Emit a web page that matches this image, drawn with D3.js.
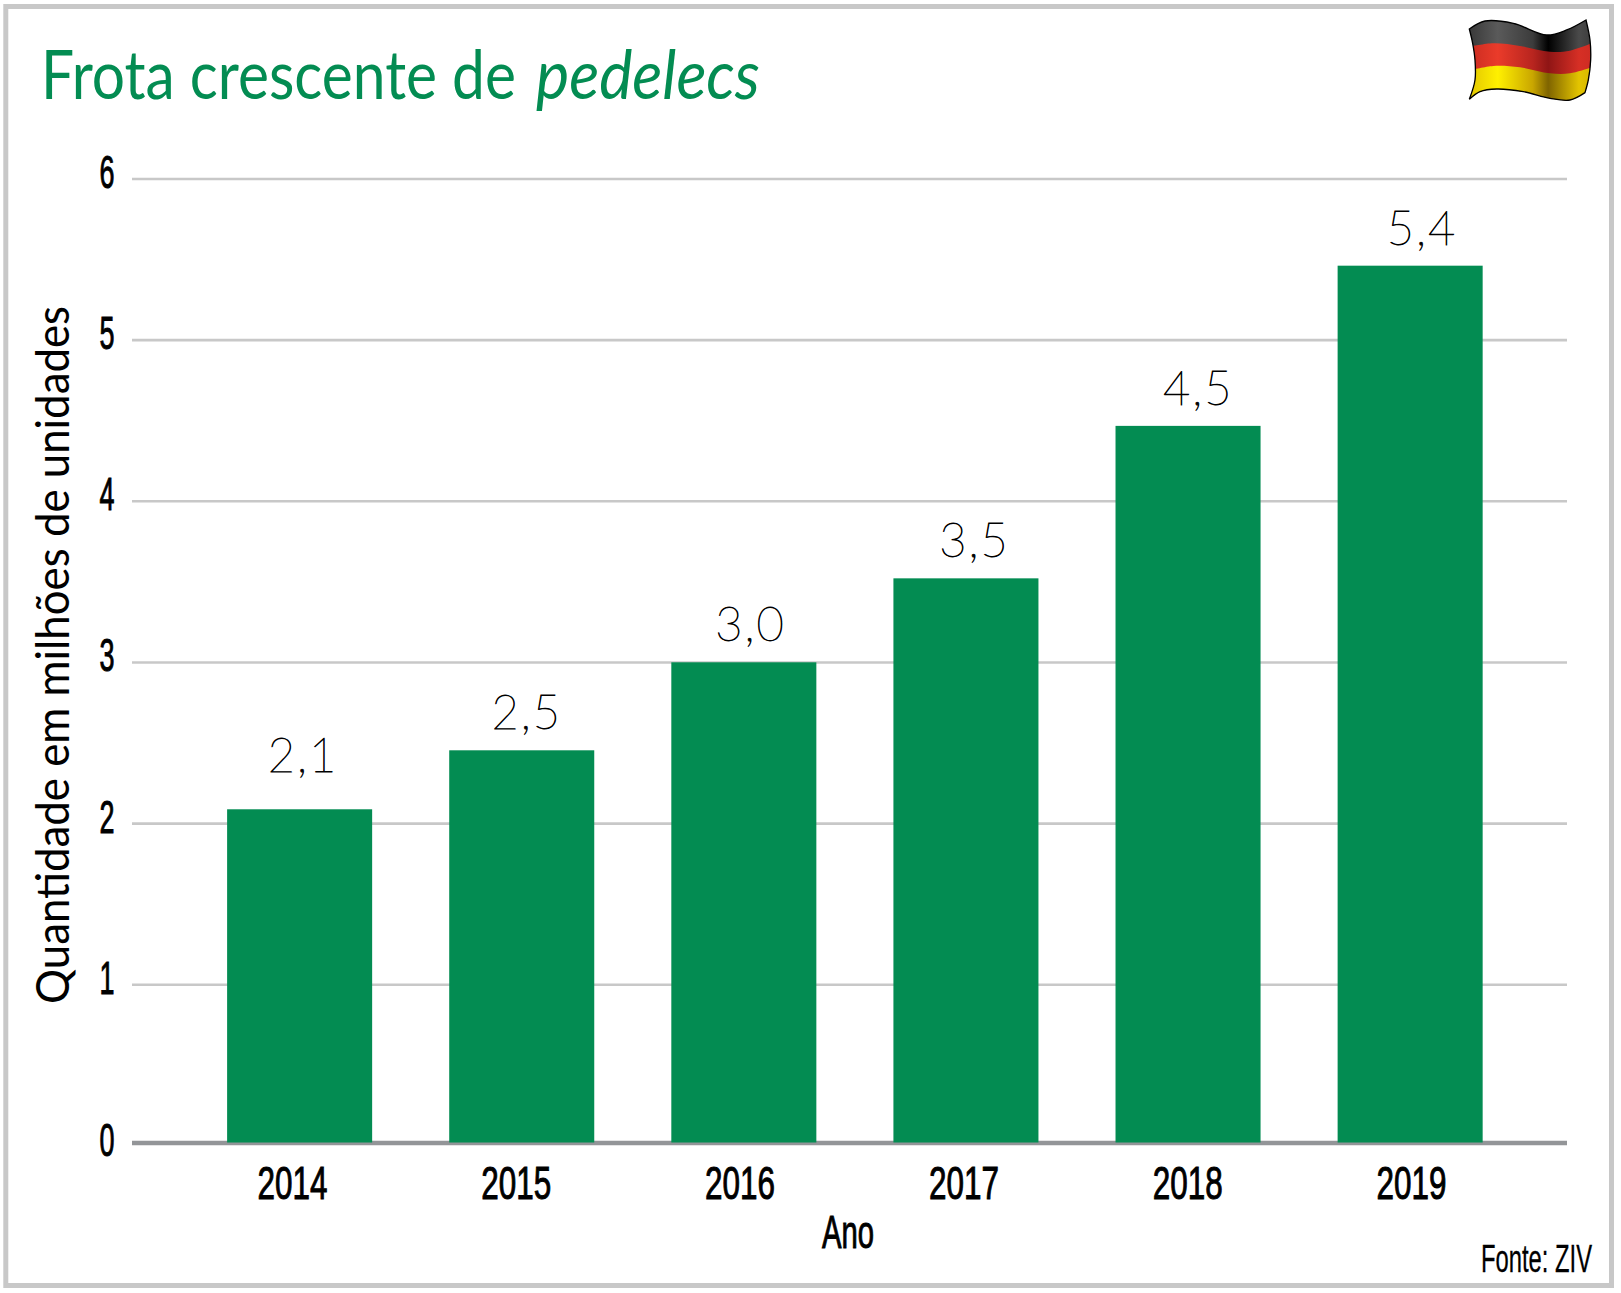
<!DOCTYPE html>
<html>
<head>
<meta charset="utf-8">
<title>Frota crescente de pedelecs</title>
<script src="https://cdn.jsdelivr.net/npm/d3@7"></script>
<style>
	html, body { margin: 0; padding: 0; background: #fff; }
	svg { display: block; }
	.cond { font-family: "Liberation Sans Narrow", "Liberation Sans", sans-serif; font-weight: 400; fill: #000; stroke: #000; stroke-width: 1; }
	.light { font-family: Lato, "Open Sans", sans-serif; font-weight: 200; fill: #000; stroke: #000; stroke-width: 0.8; }
	.book { font-family: Lato, "Open Sans", sans-serif; font-weight: 400; fill: #000; }
</style>
</head>
<body>
<div id="chart"></div>
<script>
var years = ["2014", "2015", "2016", "2017", "2018", "2019"];
var barValues = [2.086, 2.452, 2.998, 3.519, 4.465, 5.459];
var valueLabels = ["2,1", "2,5", "3,0", "3,5", "4,5", "5,4"];
var yTicks = [0, 1, 2, 3, 4, 5, 6];

var width = 1621, height = 1293;
var green = "#038c52";

var svg = d3.select("#chart").append("svg")
	.attr("width", width)
	.attr("height", height);

// squeeze a text to a target width with a real transform
function fitText(sel, tx, ty, target) {
	var k = target / sel.node().getComputedTextLength();
	sel.attr("transform", "translate(" + tx + "," + ty + ") scale(" + k + ",1)");
}

svg.append("rect")
	.attr("x", 5.8).attr("y", 6.5)
	.attr("width", 1605.7).attr("height", 1279)
	.attr("fill", "#fff")
	.attr("stroke", "#c8c8c8")
	.attr("stroke-width", 5);

// baseline sits a little high in the original, hence the extra stop at 1
var y = d3.scaleLinear().domain([0, 1, 6]).range([1142.5, 984.3, 178.5]);

var x = d3.scaleBand()
	.domain(years)
	.range([132, 1567])
	.paddingInner(0.347)
	.paddingOuter(0.404)
	.align(0.53);

// the year and value labels run on a slightly wider step than the bars
var xTick = d3.scalePoint().domain(years).range([292, 1411]);
var xValue = d3.scalePoint().domain(years).range([303, 1422]);

var yAxis = svg.append("g")
	.attr("transform", "translate(132,0)")
	.call(d3.axisLeft(y).tickValues(yTicks).tickSize(-(1567 - 132)).tickFormat(d3.format("d")));
yAxis.select(".domain").remove();
yAxis.selectAll(".tick line")
	.attr("stroke", d => d === 0 ? "#939598" : "#c8c8c8")
	.attr("stroke-width", d => d === 0 ? 4.5 : 2.6);
yAxis.selectAll(".tick text")
	.attr("class", "cond")
	.attr("x", -25)
	.attr("y", d => d === 0 ? 12.5 : 9)
	.attr("dy", 0)
	.attr("text-anchor", "middle")
	.attr("font-size", 46)
	.attr("textLength", 15)
	.attr("lengthAdjust", "spacingAndGlyphs");

svg.append("g").selectAll("rect")
	.data(barValues)
	.enter().append("rect")
	.attr("x", (d, i) => x(years[i]))
	.attr("y", d => y(d))
	.attr("width", x.bandwidth())
	.attr("height", d => y(0) - y(d))
	.attr("fill", green);

svg.append("g").selectAll("text")
	.data(valueLabels)
	.enter().append("text")
	.attr("class", "light")
	.attr("x", (d, i) => xValue(years[i]))
	.attr("y", (d, i) => y(barValues[i]) - (i === 0 ? 37.5 : 21))
	.attr("text-anchor", "middle")
	.attr("font-size", 47)
	.attr("letter-spacing", 2)
	.text(d => d);

var xAxis = svg.append("g")
	.attr("transform", "translate(0,1142.5)")
	.call(d3.axisBottom(xTick).tickSize(0));
xAxis.select(".domain").remove();
xAxis.selectAll(".tick text")
	.attr("class", "cond")
	.attr("y", 56.5)
	.attr("dy", 0)
	.attr("font-size", 46)
	.attr("textLength", 70)
	.attr("lengthAdjust", "spacingAndGlyphs");

svg.append("text")
	.attr("class", "cond")
	.attr("x", 848).attr("y", 1247.5)
	.attr("text-anchor", "middle")
	.attr("font-size", 46)
	.attr("textLength", 52)
	.attr("lengthAdjust", "spacingAndGlyphs")
	.text("Ano");

var fonte = svg.append("text")
	.attr("class", "cond")
	.style("stroke-width", 0.3)
	.attr("text-anchor", "end")
	.attr("font-size", 39)
	.text("Fonte: ZIV");
fitText(fonte, 1592, 1272, 111);

svg.append("text")
	.attr("class", "book")
	.attr("transform", "translate(69.3,1004) rotate(-90)")
	.attr("font-size", 47)
	.attr("textLength", 698)
	.attr("lengthAdjust", "spacingAndGlyphs")
	.text("Quantidade em milhões de unidades");

var title = svg.append("g")
	.attr("font-family", "Lato, sans-serif")
	.attr("font-size", 68)
	.attr("fill", green);
var titleMain = title.append("text").text("Frota crescente de");
fitText(titleMain, 41, 99, 475);
var titleItalic = title.append("text")
	.attr("font-style", "italic")
	.text("pedelecs");
fitText(titleItalic, 536, 99, 224);

var flagEdges = {
	top: [[28, 57], [75, 33], [160, 40], [260, 75], [320, 60], [378, 30]],
	right: [[378, 30], [390, 90], [392, 150], [385, 210], [375, 248]],
	bottom: [[375, 248], [330, 270], [270, 265], [190, 245], [110, 237], [60, 245], [28, 268]],
	left: [[28, 268], [45, 210], [45, 150], [38, 100], [28, 57]],
	redTop: [[30, 110], [100, 100], [180, 108], [270, 125], [330, 122], [395, 100]],
	yellowTop: [[35, 180], [100, 168], [180, 172], [270, 190], [330, 190], [395, 172]]
};
var flagStops = {
	black: ["#2e2e2e", "#5a5a5a", "#3c3c3c", "#000000", "#4a4a4a", "#333333"],
	red: ["#c0271e", "#ea3b2a", "#b8251f", "#8f1515", "#d62f25", "#c92a22"],
	yellow: ["#d9b800", "#fff000", "#c9a600", "#7f6400", "#e3c400", "#d0ae00"]
};
var flagOffsets = [0, 0.27, 0.52, 0.63, 0.85, 1];

var defs = svg.append("defs");
Object.keys(flagStops).forEach(function(k) {
	var g = defs.append("linearGradient").attr("id", "flag-" + k);
	flagStops[k].forEach(function(c, i) {
		g.append("stop").attr("offset", flagOffsets[i]).attr("stop-color", c);
	});
});

var curve = d3.line().curve(d3.curveCatmullRom.alpha(0.5));
function smooth(points) { return curve(points); }
function outline() {
	return smooth(flagEdges.top) + smooth(flagEdges.right).replace("M", "L")
		+ smooth(flagEdges.bottom).replace("M", "L") + smooth(flagEdges.left).replace("M", "L") + "Z";
}

defs.append("clipPath").attr("id", "flag-clip").append("path").attr("d", outline());

var flag = svg.append("g").attr("transform", "translate(1460,10) scale(0.3333)");
var stripes = flag.append("g").attr("clip-path", "url(#flag-clip)");
stripes.append("rect").attr("x", 0).attr("y", 0).attr("width", 420).attr("height", 300).attr("fill", "url(#flag-black)");
stripes.append("path")
	.attr("d", smooth(flagEdges.redTop) + "L420,300L0,300Z")
	.attr("fill", "url(#flag-red)");
stripes.append("path")
	.attr("d", smooth(flagEdges.yellowTop) + "L420,300L0,300Z")
	.attr("fill", "url(#flag-yellow)");
flag.append("path")
	.attr("d", outline())
	.attr("fill", "none")
	.attr("stroke", "#000")
	.attr("stroke-width", 4);
</script>
</body>
</html>
